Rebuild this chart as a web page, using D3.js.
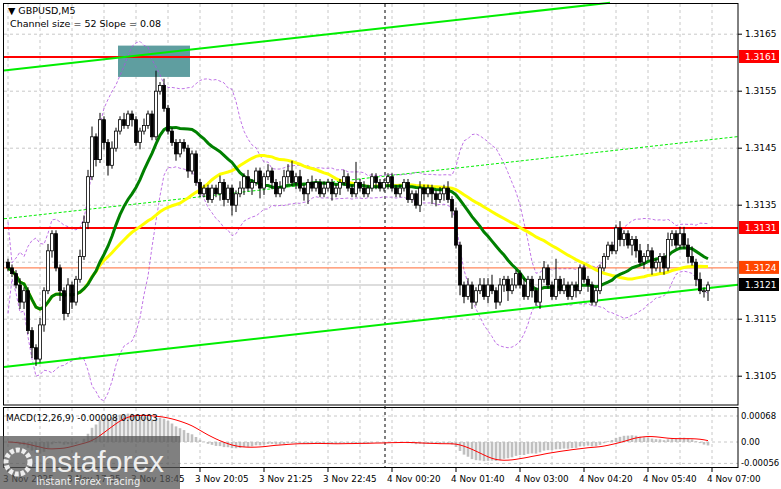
<!DOCTYPE html>
<html><head><meta charset="utf-8">
<script src="https://cdn.jsdelivr.net/npm/d3@7"></script>
<style>body{margin:0;background:#fff}svg{display:block;font-family:"DejaVu Sans",sans-serif}</style>
</head><body><svg width="781" height="489"></svg>
<script>
// closes of each 5-minute candle, open = previous close
const closes = [
1.3124,1.3123,1.3121,1.3118,1.3120,1.3113,1.3110,1.3108,1.3114,1.3120,
1.3127,1.3130,1.3124,1.3120,1.3116,1.3121,1.3118,1.3122,1.3126,1.3132,
1.3140,1.3147,1.3143,1.3150,1.3146,1.3142,1.3145,1.3148,1.3150,1.3149,
1.3151,1.3150,1.3146,1.3148,1.3149,1.3151,1.3147,1.3155,1.3156,1.3152,
1.3148,1.3146,1.3144,1.3146,1.3145,1.3141,1.3144,1.3139,1.3137,1.3138,
1.3136,1.3138,1.3137,1.3139,1.3136,1.3138,1.3135,1.3137,1.3138,1.3140,
1.3138,1.3139,1.3141,1.3138,1.3140,1.3141,1.3139,1.3137,1.3138,1.3140,
1.3141,1.3139,1.3140,1.3138,1.3137,1.3139,1.3138,1.3139,1.3137,1.3138,
1.3139,1.3137,1.3138,1.3139,1.3140,1.3138,1.3137,1.3139,1.3138,1.3137,
1.3138,1.3140,1.3139,1.3138,1.3139,1.3140,1.3138,1.3137,1.3138,1.3139,
1.3136,1.3137,1.3135,1.3138,1.3137,1.3138,1.3137,1.3136,1.3137,1.3138,
1.3136,1.3134,1.3128,1.3121,1.3119,1.3121,1.3118,1.3120,1.3121,1.3119,
1.3121,1.3120,1.3118,1.3121,1.3122,1.3120,1.3121,1.3123,1.3121,1.3119,
1.3122,1.3120,1.3118,1.3122,1.3124,1.3121,1.3119,1.3122,1.3120,1.3121,
1.3119,1.3121,1.3120,1.3124,1.3122,1.3121,1.3118,1.3120,1.3124,1.3126,
1.3128,1.3127,1.3131,1.3129,1.3130,1.3128,1.3129,1.3127,1.3125,1.3126,
1.3127,1.3124,1.3125,1.3126,1.3124,1.3129,1.3130,1.3128,1.3130,1.3128,
1.3126,1.3125,1.3122,1.3120,1.3120,1.3121];
// wick lengths beyond the body, in pips
const wickUp = [1,1,1,2,1,1,1,1,2,1, 2,1,1,1,1,2,1,1,2,2, 2,3,1,2,1,1,2,1,1,2, 1,1,1,1,2,1,1,6,1,2, 1,1,1,1,1,1,1,1,1,1];
const wickDn = [1,1,1,2,2,1,3,2,1,2, 1,2,1,3,2,1,2,1,1,1, 2,1,2,1,2,3,1,1,1,1, 1,2,1,2,1,1,1,1,1,1, 1,1,2,1,1,2,1,1,1,1];
const timeLabels = ["3 Nov 2025","3 Nov 17:25","3 Nov 18:45","3 Nov 20:05","3 Nov 21:25","3 Nov 22:45","4 Nov 00:20","4 Nov 01:40","4 Nov 03:00","4 Nov 04:20","4 Nov 05:40","4 Nov 07:00"];
const priceTicks = [1.3165,1.3155,1.3145,1.3135,1.3125,1.3115,1.3105];
const levels = [1.3161,1.3131];
const bid = 1.3121, ask = 1.3124;
const channel = {i0:0,p0:1.31067,i1:182,p1:1.3121,size:0.0052};
const macdTicks = [0.00068,0,-0.00056];

const svg = d3.select('svg');
const x = d3.scaleLinear().domain([0,176]).range([8,712]);
const y = d3.scaleLinear().domain([1.3121,1.3131]).range([285,228]);
const ym = d3.scaleLinear().domain([0,0.00068]).range([442,416]);
const opens = closes.map((c,i)=> i? closes[i-1] : 1.3125);
const pip = 0.0001;
const hi = closes.map((c,i)=>Math.max(c,opens[i])+(wickUp[i%wickUp.length])*pip*0.6);
const lo = closes.map((c,i)=>Math.min(c,opens[i])-(wickDn[i%wickDn.length])*pip*0.6);

// indicators
function sma(a,p){return a.map((v,i)=>{const s=a.slice(Math.max(0,i-p+1),i+1);return d3.mean(s);});}
function ema(a,p){const k=2/(p+1);let e=a[0];return a.map(v=>e=v*k+e*(1-k));}
const ma1 = sma(closes,20), ma2 = sma(closes,44);
const bbM = sma(closes,20);
const bbS = closes.map((v,i)=>{const s=closes.slice(Math.max(0,i-19),i+1);return s.length>1?d3.deviation(s):0.0004;});
const e12=ema(closes,12), e26=ema(closes,26);
const macd = e12.map((v,i)=>v-e26[i]);
const sig = sma(macd,9);

const main = svg.append('g');
// grid
const grid = main.append('g').attr('stroke','#c8c8c8').attr('stroke-dasharray','3,3');
priceTicks.forEach(p=>grid.append('line').attr('x1',4).attr('x2',738).attr('y1',y(p)).attr('y2',y(p)));
d3.range(0,177,8).forEach(i=>{grid.append('line').attr('x1',x(i)).attr('x2',x(i)).attr('y1',4).attr('y2',405);
  grid.append('line').attr('x1',x(i)).attr('x2',x(i)).attr('y1',408).attr('y2',467);});
macdTicks.forEach(v=>grid.append('line').attr('x1',4).attr('x2',738).attr('y1',ym(v)).attr('y2',ym(v)));

main.append('line').attr('x1',385).attr('x2',385).attr('y1',4).attr('y2',467).attr('stroke','#000').attr('stroke-dasharray','3,3');

// teal zone
main.append('rect').attr('x',x(27.5)).attr('y',y(1.3163)).attr('width',72).attr('height',y(1.31575)-y(1.3163)).attr('fill','#5f9ea0');

// bollinger
const bbLine=(k)=>d3.line().x((d,i)=>x(i)).y((d,i)=>y(bbM[i]+k*bbS[i]))(closes);
[-2,2].forEach(k=>main.append('path').attr('d',bbLine(k)).attr('fill','none').attr('stroke','#b050e0').attr('stroke-width',0.8).attr('stroke-dasharray','3,2'));

// levels
levels.forEach(p=>main.append('line').attr('x1',4).attr('x2',738).attr('y1',y(p)).attr('y2',y(p)).attr('stroke','#f00').attr('stroke-width',2));
main.append('line').attr('x1',4).attr('x2',738).attr('y1',y(ask)).attr('y2',y(ask)).attr('stroke','#ff4500').attr('stroke-width',0.8);
main.append('line').attr('x1',4).attr('x2',738).attr('y1',y(bid)).attr('y2',y(bid)).attr('stroke','#bbb').attr('stroke-width',1);

// channel
const chP=(i,off)=>channel.p0+(channel.p1-channel.p0)*(i-channel.i0)/(channel.i1-channel.i0)+off;
const ix = x.invert(4), ix2=x.invert(738);
main.append('line').attr('x1',4).attr('y1',y(chP(ix,0))).attr('x2',738).attr('y2',y(chP(ix2,0))).attr('stroke','#00ee00').attr('stroke-width',2);
main.append('line').attr('x1',4).attr('y1',y(chP(ix,channel.size/2))).attr('x2',738).attr('y2',y(chP(ix2,channel.size/2))).attr('stroke','#00ee00').attr('stroke-dasharray','3,2');
const xu = x.invert(610);
main.append('line').attr('x1',4).attr('y1',y(chP(ix,channel.size))).attr('x2',610).attr('y2',y(chP(xu,channel.size))).attr('stroke','#00ee00').attr('stroke-width',2);

// MAs
const ln=a=>d3.line().x((d,i)=>x(i)).y(d=>y(d))(a);
main.append('path').attr('d',ln(ma2)).attr('fill','none').attr('stroke','#ffff00').attr('stroke-width',3);
main.append('path').attr('d',ln(ma1)).attr('fill','none').attr('stroke','#008000').attr('stroke-width',3);

// candles
const cg = main.append('g');
closes.forEach((c,i)=>{
  const o=opens[i], up=c>=o;
  cg.append('line').attr('x1',x(i)).attr('x2',x(i)).attr('y1',y(hi[i])).attr('y2',y(lo[i])).attr('stroke','#000');
  const t=y(Math.max(o,c)), b=y(Math.min(o,c));
  cg.append('rect').attr('x',x(i)-1.5).attr('width',3).attr('y',t).attr('height',Math.max(1,b-t))
    .attr('fill',up?'#fff':'#000').attr('stroke','#000').attr('stroke-width',0.8);
});

// MACD
const mg = svg.append('g');
mg.selectAll('rect').data(macd).enter().append('rect')
  .attr('x',(d,i)=>x(i)-1.3).attr('width',2.6)
  .attr('y',d=>Math.min(ym(d),ym(0))).attr('height',d=>Math.abs(ym(d)-ym(0))).attr('fill','#c0c0c0');
mg.append('path').attr('d',d3.line().x((d,i)=>x(i)).y(d=>ym(d))(sig)).attr('fill','none').attr('stroke','#f00').attr('stroke-width',1);

// frames
svg.append('rect').attr('x',3.5).attr('y',3.5).attr('width',734.5).attr('height',401.5).attr('fill','none').attr('stroke','#000');
svg.append('rect').attr('x',3.5).attr('y',407.5).attr('width',734.5).attr('height',60).attr('fill','none').attr('stroke','#000');

// right axis
const ax = svg.append('g').attr('font-size',9).attr('fill','#000');
priceTicks.forEach(p=>{ if(p===1.3125) return;
  ax.append('line').attr('x1',738).attr('x2',742).attr('y1',y(p)).attr('y2',y(p)).attr('stroke','#000');
  ax.append('text').attr('x',745).attr('y',y(p)+3).text(p.toFixed(4));});
macdTicks.forEach(v=>{ax.append('text').attr('x',741).attr('y',ym(v)+3).attr('font-size',8.5).text(v===0?'0.00':v.toFixed(5));});
const tag=(p,bg)=>{ax.append('rect').attr('x',739).attr('y',y(p)-7).attr('width',40).attr('height',13).attr('fill',bg);
  ax.append('text').attr('x',745).attr('y',y(p)+3).attr('fill','#fff').text(p.toFixed(4));};
levels.forEach(p=>tag(p,'#f00'));
tag(ask,'#ff4500'); tag(bid,'#000');

// time axis
timeLabels.forEach((t,k)=>{const xx=x(k*16);
  ax.append('line').attr('x1',xx).attr('x2',xx).attr('y1',468).attr('y2',472).attr('stroke','#000');
  ax.append('text').attr('x',xx-5).attr('y',482).attr('font-size',8.8).text(t);});

// header
svg.append('text').attr('x',8).attr('y',14).attr('font-size',9.5).text('▼ GBPUSD,M5');
svg.append('text').attr('x',10).attr('y',27).attr('font-size',9.5).text('Channel size = 52 Slope = 0.08');
svg.append('text').attr('x',6).attr('y',421).attr('font-size',9).text('MACD(12,26,9) -0.00008 0.00003');

// watermark
const wm = svg.append('g');
wm.append('rect').attr('x',0).attr('y',436).attr('width',180).attr('height',53).attr('fill','#555').attr('opacity',0.75);
wm.append('circle').attr('cx',18).attr('cy',462).attr('r',12).attr('fill','none').attr('stroke','#eee').attr('stroke-width',5).attr('stroke-dasharray','4,2');
wm.append('text').attr('x',34).attr('y',472).attr('font-size',30).attr('fill','#eee').attr('font-family','Arial, Liberation Sans').text('instaforex');
wm.append('text').attr('x',36).attr('y',485).attr('font-size',10).attr('fill','#eee').text('Instant Forex Tracing');
</script></body></html>
